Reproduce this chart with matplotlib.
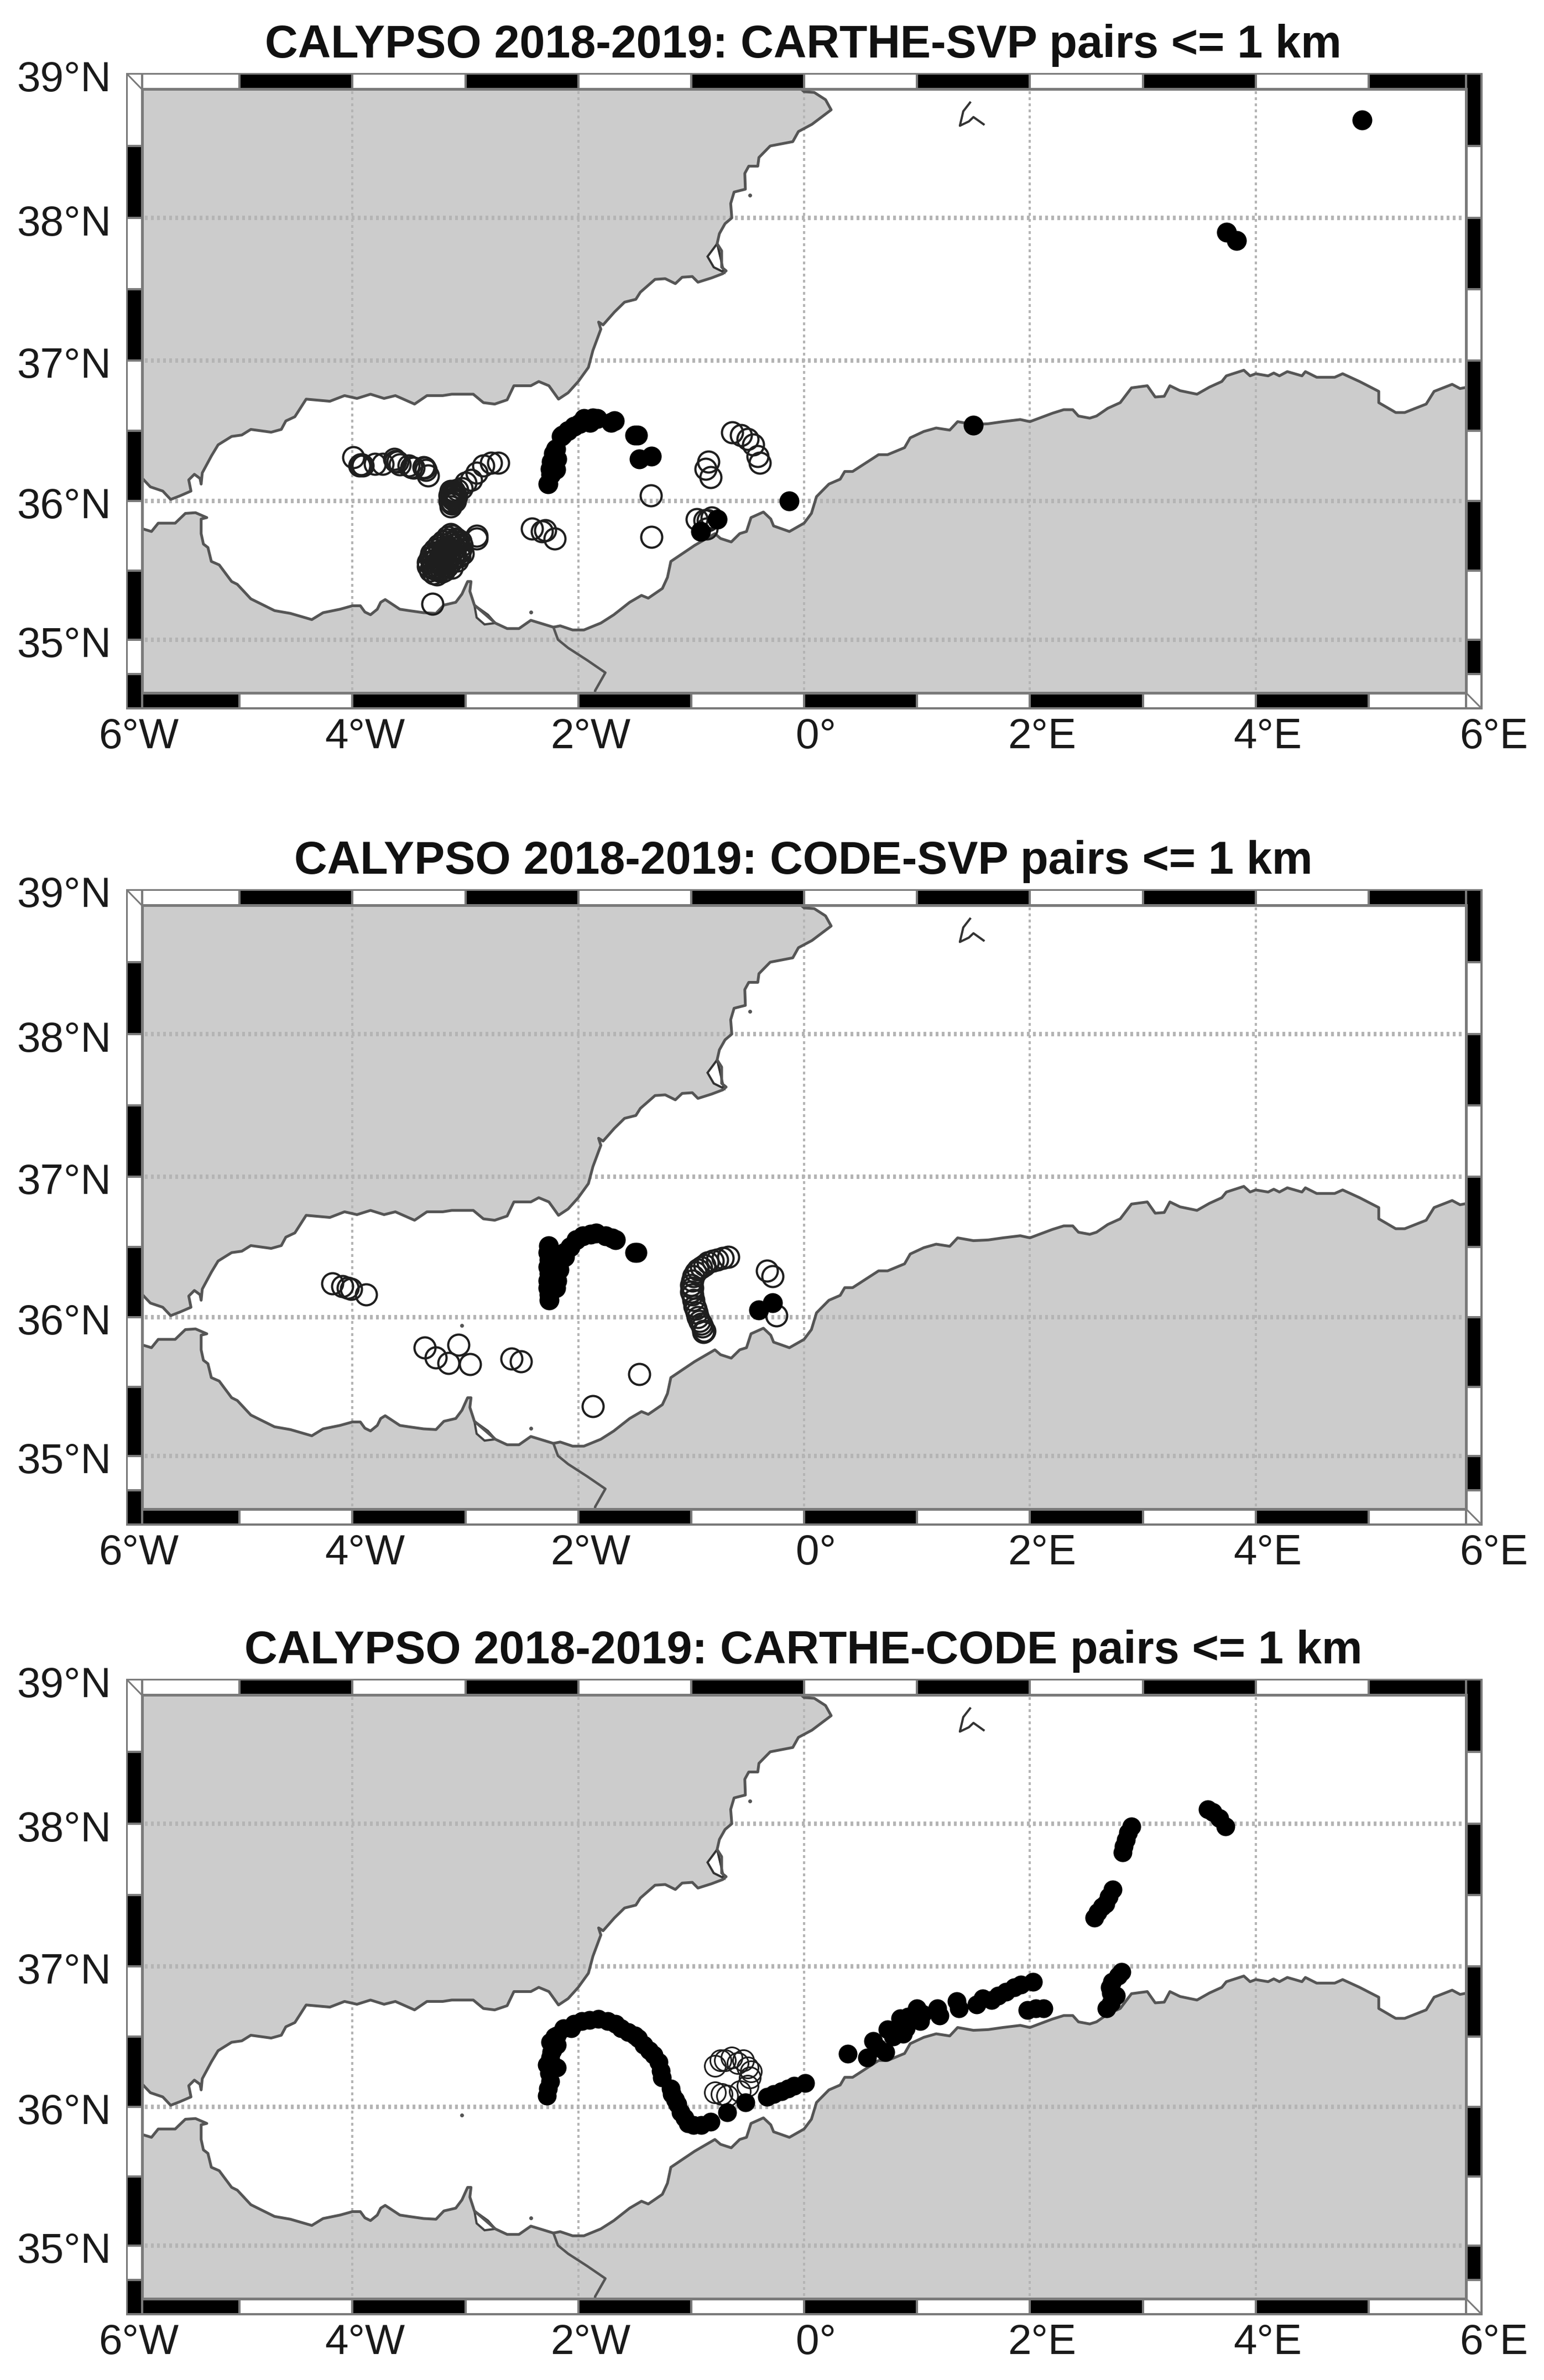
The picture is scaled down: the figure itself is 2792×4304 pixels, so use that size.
import numpy as np
import matplotlib
matplotlib.use("Agg")
import matplotlib.pyplot as plt
from matplotlib.patches import Rectangle
from matplotlib.transforms import ScaledTranslation

plt.rcParams['font.family'] = ['Liberation Sans', 'DejaVu Sans']

W, H = 2792, 4304
DPI = 100

titles = ["CALYPSO 2018-2019: CARTHE-SVP pairs <= 1 km",
          "CALYPSO 2018-2019: CODE-SVP pairs <= 1 km",
          "CALYPSO 2018-2019: CARTHE-CODE pairs <= 1 km"]
lon_ticks = [-6, -4, -2, 0, 2, 4, 6]
lon_labels = ["6°W", "4°W", "2°W", "0°", "2°E", "4°E", "6°E"]
lat_ticks = [35, 36, 37, 38, 39]
lat_labels = ["35°N", "36°N", "37°N", "38°N", "39°N"]

north_lon = [-6.0, -5.86, -5.79, -5.68, -5.61, -5.53, -5.43, -5.45, -5.40, -5.35, -5.34, -5.33, -5.25, -5.19, -5.07,
             -4.98, -4.90, -4.72, -4.63, -4.59, -4.51, -4.41, -4.20, -4.07, -3.96, -3.84, -3.72, -3.62, -3.45, -3.34,
             -3.20, -3.12, -2.93, -2.84, -2.74, -2.63, -2.57, -2.42, -2.35, -2.26, -2.175, -2.09, -2.00, -1.91, -1.87,
             -1.80, -1.82, -1.78, -1.68, -1.59, -1.49, -1.45, -1.32, -1.23, -1.14, -1.08, -0.99, -0.94, -0.82, -0.72,
             -0.69, -0.73, -0.73, -0.77, -0.75, -0.70, -0.64, -0.65, -0.62, -0.52, -0.525, -0.49, -0.41, -0.40, -0.30,
             -0.10, -0.05, 0.07, 0.24, 0.19, 0.09, 0.0, -0.05, -0.1]
north_lat = [36.22, 36.16, 36.10, 36.07, 36.01, 36.035, 36.07, 36.15, 36.19, 36.16, 36.12, 36.20, 36.32, 36.40, 36.46,
             36.47, 36.51, 36.49, 36.51, 36.57, 36.60, 36.725, 36.71, 36.75, 36.73, 36.76, 36.73, 36.75, 36.69, 36.75,
             36.75, 36.76, 36.76, 36.70, 36.69, 36.72, 36.82, 36.82, 36.85, 36.82, 36.725, 36.77, 36.85, 36.95, 37.07,
             37.22, 37.27, 37.25, 37.34, 37.41, 37.43, 37.48, 37.57, 37.575, 37.54, 37.585, 37.59, 37.55, 37.58, 37.61,
             37.63, 37.655, 37.77, 37.82, 37.89, 37.96, 38.00, 38.10, 38.18, 38.20, 38.31, 38.36, 38.36, 38.42, 38.50,
             38.53, 38.60, 38.65, 38.75, 38.82, 38.87, 38.875, 38.91, 39.0]
south_lon = [-6.0, -5.86, -5.78, -5.72, -5.57, -5.48, -5.39, -5.29, -5.34, -5.34, -5.32, -5.28, -5.25, -5.18, -5.07,
             -5.02, -4.90, -4.69, -4.55, -4.36, -4.26, -4.11, -4.00, -3.93, -3.89, -3.84, -3.78, -3.75, -3.71, -3.58,
             -3.50, -3.37, -3.26, -3.19, -3.085, -3.03, -2.98, -2.95, -2.96, -2.92, -2.735, -2.63, -2.525, -2.42, -2.22,
             -2.16, -2.05, -1.95, -1.80, -1.685, -1.545, -1.44, -1.38, -1.255, -1.21, -1.18, -0.97, -0.79, -0.74, -0.645,
             -0.57, -0.51, -0.47, -0.36, -0.295, -0.27, -0.13, 0.0, 0.065, 0.11, 0.22, 0.32, 0.36, 0.43, 0.66, 0.74,
             0.89, 0.94, 1.06, 1.17, 1.29, 1.36, 1.50, 1.63, 1.76, 1.915, 2.00, 2.20, 2.30, 2.38, 2.43, 2.53, 2.59,
             2.69, 2.80, 2.90, 3.04, 3.11, 3.19, 3.24, 3.33, 3.48, 3.59, 3.70, 3.74, 3.895, 3.95, 4.00, 4.11, 4.16,
             4.21, 4.28, 4.41, 4.44, 4.54, 4.70, 4.77, 4.92, 5.09, 5.09, 5.24, 5.32, 5.51, 5.58, 5.74, 5.81, 5.875, 6.0]
south_lat = [35.81, 35.80, 35.78, 35.84, 35.84, 35.91, 35.915, 35.88, 35.87, 35.765, 35.69, 35.665, 35.565, 35.54, 35.42,
             35.40, 35.295, 35.21, 35.19, 35.145, 35.195, 35.22, 35.245, 35.245, 35.20, 35.18, 35.22, 35.27, 35.29, 35.22,
             35.21, 35.195, 35.19, 35.25, 35.27, 35.33, 35.42, 35.42, 35.35, 35.25, 35.12, 35.08, 35.08, 35.14, 35.09,
             35.10, 35.07, 35.07, 35.12, 35.18, 35.27, 35.32, 35.30, 35.37, 35.45, 35.565, 35.68, 35.765, 35.73, 35.705,
             35.765, 35.78, 35.88, 35.92, 35.87, 35.82, 35.78, 35.84, 35.91, 36.03, 36.12, 36.155, 36.21, 36.21, 36.33, 36.33,
             36.38, 36.45, 36.495, 36.52, 36.505, 36.565, 36.545, 36.55, 36.565, 36.58, 36.565, 36.625, 36.65, 36.65, 36.605, 36.59, 36.605,
             36.66, 36.70, 36.805, 36.82, 36.74, 36.745, 36.82, 36.785, 36.76, 36.81, 36.85, 36.89, 36.93, 36.89, 36.905, 36.89, 36.91,
             36.89, 36.92, 36.89, 36.92, 36.88, 36.88, 36.905, 36.85, 36.78, 36.70, 36.63, 36.63, 36.69, 36.78, 36.83, 36.80, 36.81, 36.80]
border_lon = [-2.22, -2.18, -2.09, -1.92, -1.76, -1.85, -1.87]
border_lat = [35.09, 35.00, 34.94, 34.85, 34.76, 34.63, 34.5]
menor_lon = [-0.77, -0.855, -0.80, -0.71]
menor_lat = [37.82, 37.73, 37.655, 37.62]
chica_lon = [-2.92, -2.90, -2.83, -2.735, -2.80]
chica_lat = [35.25, 35.16, 35.11, 35.12, 35.18]
ibiza_lon = [1.20, 1.30, 1.41, 1.43]
ibiza_lat = [38.98, 38.97, 38.93, 39.0]
form_lon = [1.47, 1.41, 1.38, 1.46, 1.50, 1.59]
form_lat = [38.80, 38.74, 38.64, 38.67, 38.70, 38.65]
islet_lon = [-0.48, -2.42, -3.03]
islet_lat = [38.16, 35.20, 35.94]

# panel 1
p1_open_lon = [-3.99, -3.93, -3.94, -3.92, -3.91, -3.80, -3.73, -3.62, -3.63, -3.60, -3.58, -3.50, -3.48, -3.46, -3.37, -3.36, -3.35, -3.33,
               -3.13, -3.12, -3.14, -3.09, -3.13, -3.10, -3.12, -3.14, -3.09, -3.13, -3.10, -3.07, -3.12, -3.11, -3.08, -3.13, -3.10,
               -3.03, -3.00, -2.95, -2.90, -2.84, -2.77, -2.71,
               -3.28, -3.25, -3.21, -3.31, -3.27, -3.24, -3.19, -3.33, -3.28, -3.25, -3.20, -3.16,
               -3.33, -3.29, -3.24, -3.21, -3.17, -3.13, -3.31, -3.28, -3.23, -3.18, -3.15, -3.11, -3.05,
               -3.30, -3.26, -3.21, -3.18, -3.14, -3.09, -3.05, -3.27, -3.23, -3.20, -3.15, -3.11, -3.04, -3.02,
               -3.24, -3.21, -3.16, -3.11, -3.08, -3.03, -3.20, -3.16, -3.13, -3.08, -3.04, -3.16, -3.11, -3.08, -3.13,
               -3.22, -3.17, -3.12, -3.07, -3.26, -3.19, -3.09, -3.29, -3.16, -3.06,
               -2.90, -2.90, -3.29, -2.41, -2.32, -2.29, -2.21, -1.355, -1.35,
               -0.845, -0.87, -0.83, -0.635, -0.56, -0.50, -0.45, -0.41, -0.39, -0.95, -0.82, -0.85, -0.88, -0.86]
p1_open_lat = [36.31, 36.26, 36.25, 36.26, 36.25, 36.265, 36.265, 36.285, 36.30, 36.28, 36.26, 36.25, 36.24, 36.235, 36.24, 36.235, 36.22, 36.18,
               35.96, 35.98, 36.00, 36.00, 36.03, 36.02, 36.05, 36.04, 36.05, 36.07, 36.07, 36.08, 35.99, 36.01, 36.03, 36.06, 36.04,
               36.09, 36.13, 36.15, 36.20, 36.25, 36.27, 36.27,
               35.48, 35.47, 35.49, 35.50, 35.51, 35.50, 35.50, 35.53, 35.54, 35.52, 35.53, 35.53,
               35.56, 35.57, 35.56, 35.55, 35.57, 35.56, 35.59, 35.60, 35.59, 35.60, 35.58, 35.59, 35.60,
               35.62, 35.63, 35.62, 35.64, 35.61, 35.62, 35.63, 35.65, 35.66, 35.65, 35.66, 35.64, 35.65, 35.62,
               35.68, 35.69, 35.67, 35.68, 35.69, 35.68, 35.71, 35.72, 35.70, 35.72, 35.71, 35.74, 35.75, 35.73, 35.76,
               35.51, 35.55, 35.52, 35.57, 35.58, 35.60, 35.66, 35.52, 35.64, 35.70,
               35.73, 35.75, 35.26, 35.80, 35.78, 35.79, 35.73, 36.04, 35.74,
               36.28, 36.23, 36.17, 36.49, 36.47, 36.44, 36.40, 36.32, 36.27, 35.87, 35.88, 35.86, 35.86, 35.80]
p1_fill_lon = [-2.266, -2.245, -2.20, -2.25, -2.19, -2.24, -2.20, -2.22, -2.15, -2.14, -2.09, -2.04, -1.99, -1.95, -1.895, -1.87, -1.83,
               -1.71, -1.68, -1.50, -1.475, -1.46, -1.35, -0.77, -0.915, -0.13, 1.50, 3.74, 3.83, 4.94]
p1_fill_lat = [36.12, 36.19, 36.225, 36.23, 36.30, 36.28, 36.37, 36.34, 36.46, 36.47, 36.50, 36.53, 36.55, 36.585, 36.56, 36.59, 36.585,
               36.56, 36.57, 36.47, 36.47, 36.30, 36.32, 35.87, 35.78, 36.00, 36.54, 37.90, 37.84, 38.68]

# panel 2
p2_open_lon = [-4.18, -4.09, -4.04, -4.01, -3.88, -3.36, -3.26, -3.15, -3.06, -2.96, -2.59, -2.51, -1.46, -1.87,
               -0.67, -0.72, -0.77, -0.81, -0.85, -0.88, -0.91, -0.94, -0.96, -0.98, -0.99, -1.00, -0.99, -1.00, -0.99,
               -0.98, -0.97, -0.96, -0.95, -0.94, -0.925, -0.91, -0.90, -0.89, -0.89, -0.88, -0.33, -0.28, -0.245]
p2_open_lat = [36.24, 36.22, 36.21, 36.20, 36.16, 35.78, 35.71, 35.67, 35.80, 35.66, 35.70, 35.68, 35.59, 35.36,
               36.43, 36.42, 36.41, 36.40, 36.39, 36.37, 36.355, 36.34, 36.32, 36.29, 36.26, 36.23, 36.21, 36.18, 36.16,
               36.12, 36.08, 36.06, 36.03, 36.00, 35.97, 35.95, 35.93, 35.90, 35.89, 35.90, 36.33, 36.29, 36.01]
p2_fill_lon = [-2.26, -2.26, -2.27, -2.27, -2.26, -2.27, -2.26, -2.27, -2.265, -2.20, -2.19, -2.19, -2.17, -2.16, -2.12, -2.12, -2.07,
               -2.02, -1.96, -1.89, -1.84, -1.76, -1.70, -1.67, -1.50, -1.48, -0.40, -0.28]
p2_fill_lat = [36.12, 36.16, 36.21, 36.26, 36.31, 36.36, 36.41, 36.46, 36.51, 36.21, 36.26, 36.32, 36.34, 36.40, 36.43, 36.46, 36.50,
               36.55, 36.58, 36.59, 36.60, 36.58, 36.565, 36.55, 36.46, 36.46, 36.05, 36.10]

# panel 3
p3_open_lon = [-0.79, -0.74, -0.64, -0.54, -0.50, -0.48, -0.50, -0.57, -0.68, -0.79, -0.70, -0.59, -0.47, -0.73]
p3_open_lat = [36.29, 36.33, 36.35, 36.33, 36.28, 36.21, 36.15, 36.11, 36.08, 36.10, 36.33, 36.31, 36.25, 36.09]
p3_fill_lon = [-2.28, -2.27, -2.25, -2.26, -2.28, -2.19, -2.25, -2.24, -2.23, -2.19, -2.19, -2.25, -2.21, -2.13, -2.06, -2.04, -1.97, -1.90,
               -1.82, -1.74, -1.67, -1.62, -1.56, -1.50, -1.47, -1.42, -1.37, -1.33, -1.29, -1.27, -1.26, -1.18, -1.17,
               -1.14, -1.12, -1.09, -1.06, -1.03, -0.98, -0.91, -0.83, -0.68, -0.52, -0.33, -0.27, -0.20, -0.14, -0.09,
               0.01, 0.385, 0.56, 0.61, 0.65, 0.72, 0.74, 0.79, 0.85, 0.875, 0.90, 0.85, 0.92, 1.00, 1.03, 1.05, 1.18,
               1.20, 1.35, 1.37, 1.53, 1.58, 1.66, 1.72, 1.79, 1.86, 1.92, 2.03, 1.98, 2.05, 2.12, 2.81, 2.78, 2.73,
               2.71, 2.72, 2.76, 2.72, 2.68, 2.57, 2.60, 2.64, 2.67, 2.70, 2.735, 2.82, 2.83, 2.85, 2.87, 2.90, 3.575,
               3.62, 3.68, 3.73]
p3_fill_lat = [36.08, 36.13, 36.18, 36.24, 36.30, 36.28, 36.35, 36.39, 36.40, 36.44, 36.51, 36.46, 36.50, 36.56, 36.56, 36.59, 36.61, 36.62,
               36.625, 36.61, 36.59, 36.56, 36.53, 36.51, 36.49, 36.44, 36.40, 36.37, 36.32, 36.255, 36.21, 36.13, 36.09,
               36.05, 36.02, 35.96, 35.92, 35.88, 35.87, 35.87, 35.89, 35.96, 36.03, 36.07, 36.09, 36.11, 36.13, 36.15,
               36.17, 36.38, 36.35, 36.47, 36.42, 36.39, 36.55, 36.50, 36.63, 36.52, 36.56, 36.58, 36.64, 36.70, 36.61,
               36.66, 36.70, 36.65, 36.75, 36.70, 36.73, 36.77, 36.76, 36.79, 36.82, 36.85, 36.87, 36.89, 36.69, 36.70,
               36.70, 36.96, 36.93, 36.89, 36.85, 36.81, 36.79, 36.74, 36.70, 37.34, 37.38, 37.42, 37.44, 37.49, 37.54,
               37.80, 37.84, 37.89, 37.94, 37.98, 38.10, 38.08, 38.04, 37.98]

panels = [(p1_open_lon, p1_open_lat, p1_fill_lon, p1_fill_lat),
          (p2_open_lon, p2_open_lat, p2_fill_lon, p2_fill_lat),
          (p3_open_lon, p3_open_lat, p3_fill_lon, p3_fill_lat)]
tops = [133, 1609, 3037]
open_mew = [4, 4, 3]
fill_ms = [36, 36, 34]

LEFT, RIGHT, PH = 229, 2679, 1148
BAND_X, BAND_Y_TOP, BAND_Y_BOT = 0.135, 0.108, 0.112
LAND, COAST, GRID, FRAME = '#cccccc', '#555555', '#b4b4b4', '#7a7a7a'


def merc(v):
    v = np.clip(np.asarray(v, dtype=float), 1, 80)
    return np.log(np.tan(np.pi / 4 + np.radians(v) / 2))


def imerc(v):
    return np.degrees(2 * np.arctan(np.exp(np.asarray(v, dtype=float))) - np.pi / 2)


fig = plt.figure(figsize=(W / DPI, H / DPI), dpi=DPI, facecolor='white')
px = 72 / DPI

for idx, top in enumerate(tops):
    ax = fig.add_axes([LEFT / W, 1 - (top + PH) / H, (RIGHT - LEFT) / W, PH / H])
    ax.set_yscale('function', functions=(merc, imerc))
    ax.set_xlim(-6, 6)
    ax.set_ylim(34.5, 39)
    ax.set_facecolor('white')
    for sp in ax.spines.values():
        sp.set_color(FRAME)
        sp.set_linewidth(3 * px)
        sp.set_zorder(12)

    # land
    ax.fill(north_lon + [-6.0], north_lat + [39.0], fc=LAND, ec='none', zorder=1)
    ax.fill(south_lon + [6.0, -6.0], south_lat + [34.5, 34.5], fc=LAND, ec='none', zorder=1)
    ax.fill(menor_lon, menor_lat, fc='white', ec='#333333', lw=4 * px, zorder=3)
    ax.fill(chica_lon, chica_lat, fc='white', ec='#444444', lw=4 * px, zorder=3)
    ax.fill(ibiza_lon, ibiza_lat, fc=LAND, ec=COAST, lw=3 * px, zorder=3)
    ax.plot(form_lon, form_lat, color='#333333', lw=4 * px, zorder=3)

    # ticks and grid
    ax.set_xticks(lon_ticks, lon_labels)
    ax.set_yticks(lat_ticks, lat_labels)
    ax.minorticks_off()
    ax.tick_params(axis='both', length=0, labelsize=55, colors='#1a1a1a')
    ax.tick_params(axis='x', pad=12)
    ax.tick_params(axis='y', pad=20)
    ax.grid(True, zorder=2)
    ax.set_axisbelow(False)
    for gl in ax.get_xgridlines():
        gl.set(color=GRID, lw=4 * px, linestyle=(0, (5 / 4, 6 / 4)), zorder=2)
    for gl in ax.get_ygridlines():
        gl.set(color=GRID, lw=8 * px, linestyle=(0, (5 / 8, 6 / 8)), zorder=2)
    xshift = ScaledTranslation(22 / DPI, 0, fig.dpi_scale_trans)
    for lab in ax.get_xticklabels():
        lab.set_transform(lab.get_transform() + xshift)
    yshift = ScaledTranslation(0, -4 / DPI, fig.dpi_scale_trans)
    for lab in ax.get_yticklabels():
        lab.set_transform(lab.get_transform() + yshift)

    # coast
    ax.plot(north_lon, north_lat, color=COAST, lw=5 * px, zorder=3)
    ax.plot(south_lon, south_lat, color=COAST, lw=5 * px, zorder=3)
    ax.plot(border_lon, border_lat, color=COAST, lw=4.5 * px, zorder=3)
    n = 2 if idx == 0 else 3
    ax.plot(islet_lon[:n], islet_lat[:n], 'o', color='#555555', ms=7 * px, mew=0, zorder=3)

    # pairs
    ol, oa, fl, fa = panels[idx]
    ax.plot(ol, oa, 'o', mfc='none', mec='#1e1e1e', mew=open_mew[idx] * px, ms=38 * px, zorder=5)
    ax.plot(fl, fa, 'o', mfc='black', mec='black', mew=0, ms=fill_ms[idx] * px, zorder=6)

    # fancy frame
    dy_top = 39 - BAND_Y_TOP
    dy_bot = 34.5 + BAND_Y_BOT
    for k, x0 in enumerate(range(-6, 6)):
        top_black = k % 2 == 1
        ax.add_patch(Rectangle((x0, dy_top), 1, BAND_Y_TOP, fc='black' if top_black else 'white',
                               ec=FRAME, lw=4 * px, zorder=10))
        ax.add_patch(Rectangle((x0, 34.5), 1, BAND_Y_BOT, fc='white' if top_black else 'black',
                               ec=FRAME, lw=4 * px, zorder=10))
    edges = [39.0, 38.5, 38.0, 37.5, 37.0, 36.5, 36.0, 35.5, 35.0, 34.75, 34.5]
    for k in range(len(edges) - 1):
        left_black = k % 2 == 1
        ax.add_patch(Rectangle((-6, edges[k + 1]), BAND_X, edges[k] - edges[k + 1],
                               fc='black' if left_black else 'white', ec=FRAME, lw=4 * px, zorder=10))
        ax.add_patch(Rectangle((6 - BAND_X, edges[k + 1]), BAND_X, edges[k] - edges[k + 1],
                               fc='white' if left_black else 'black', ec=FRAME, lw=4 * px, zorder=10))
    ax.add_patch(Rectangle((-6 + BAND_X, dy_bot), 12 - 2 * BAND_X, dy_top - dy_bot, fc='none',
                           ec=FRAME, lw=5 * px, zorder=11))
    ax.plot([-6, -6 + BAND_X], [39, dy_top], color=FRAME, lw=3 * px, zorder=11)
    ax.plot([6 - BAND_X, 6], [dy_bot, 34.5], color=FRAME, lw=3 * px, zorder=11)
    ax.set_xlim(-6, 6)
    ax.set_ylim(34.5, 39)

    fig.text(0.5203, 1 - (top - 51) / H, titles[idx], ha='center', va='center', fontsize=59.5,
             fontweight='bold', color='#111111')

fig.savefig('out.png', dpi=DPI, facecolor='white')
